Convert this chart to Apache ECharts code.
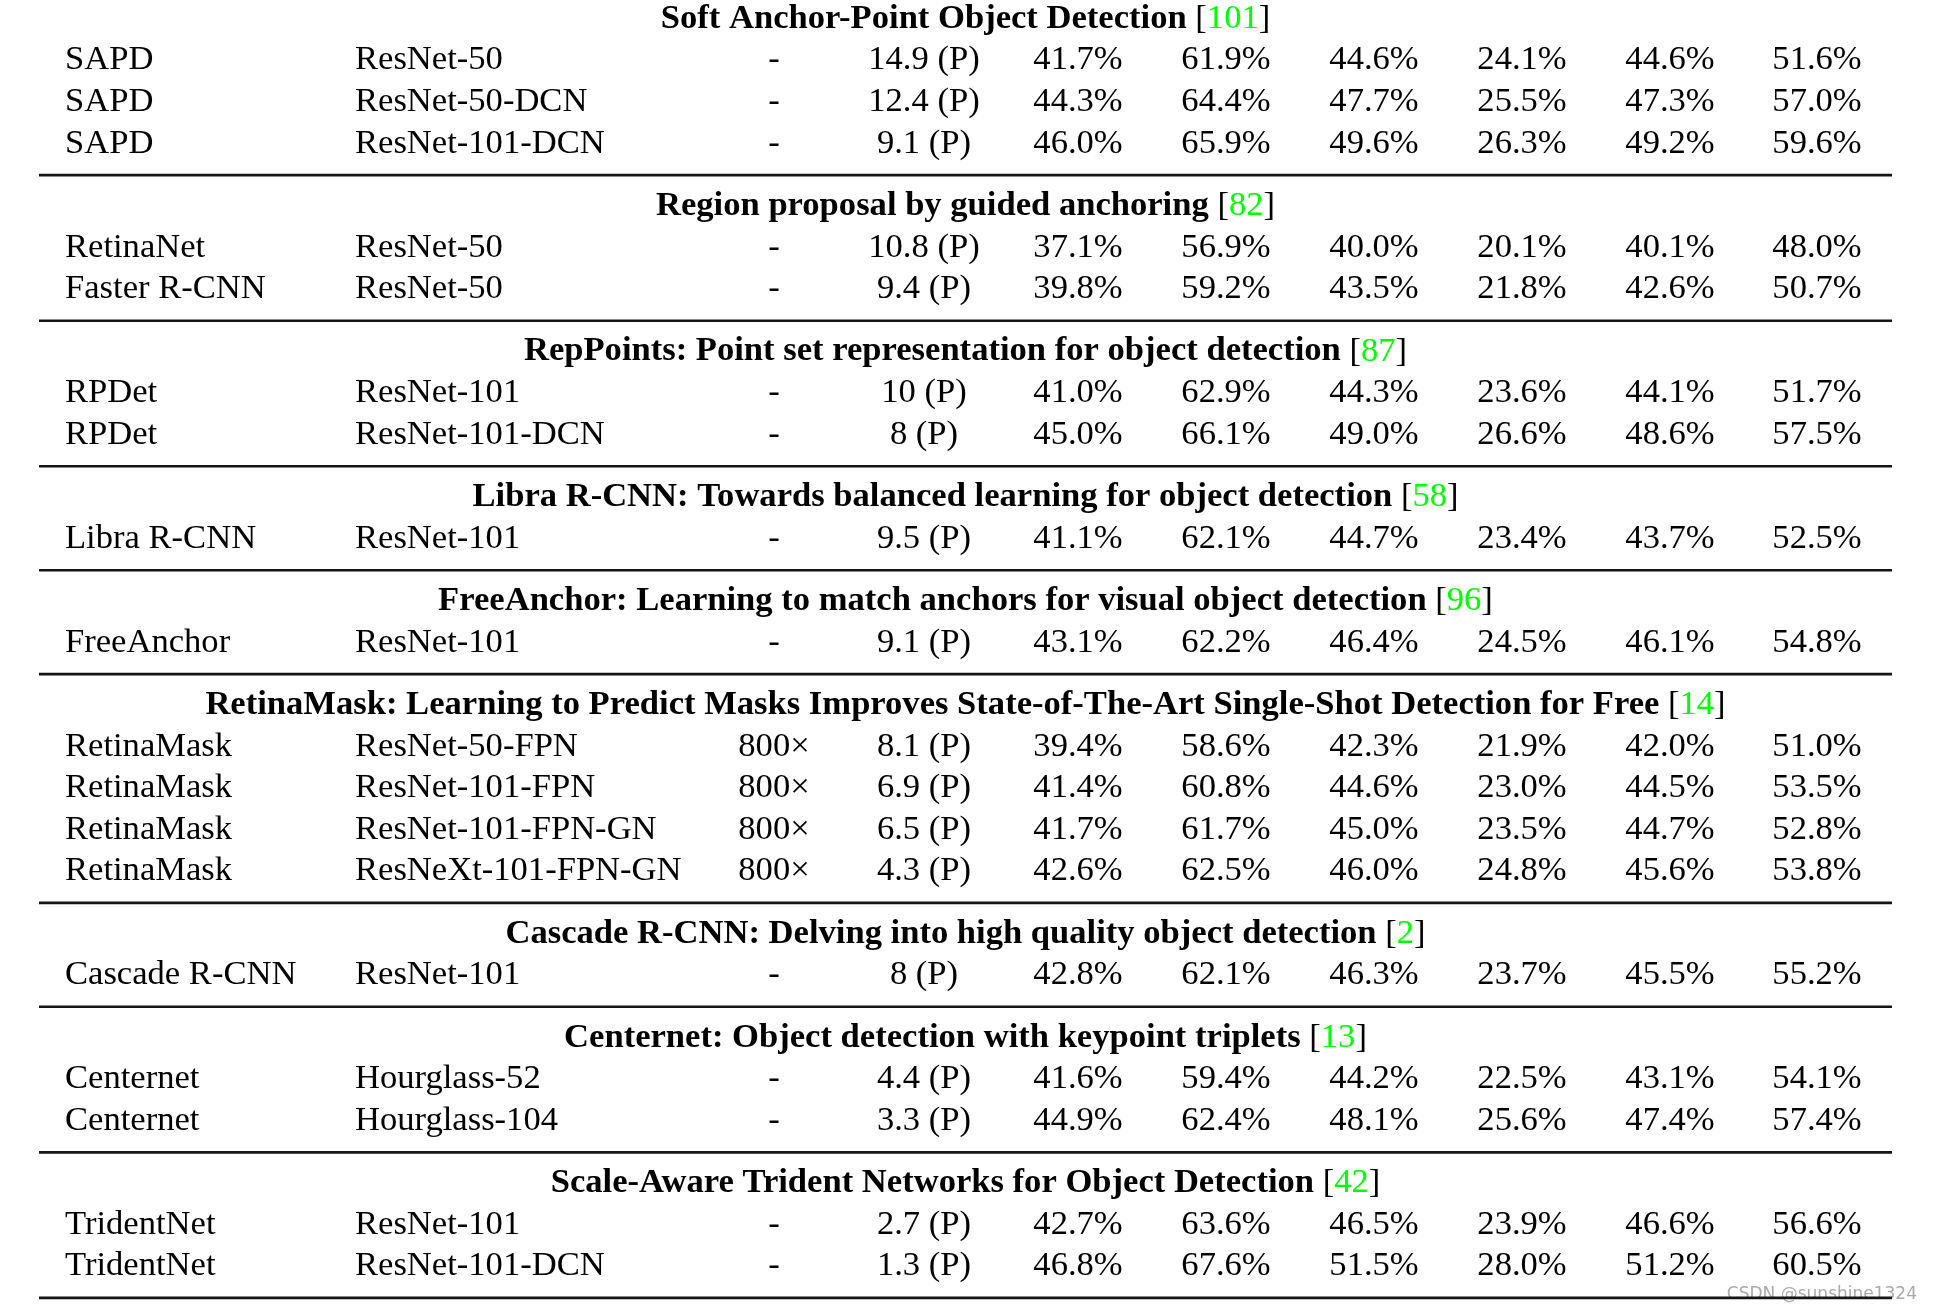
<!DOCTYPE html>
<html>
<head>
<meta charset="utf-8">
<script src="https://cdn.jsdelivr.net/npm/echarts@6/dist/echarts.min.js"></script>
<style>
html,body{margin:0;padding:0;background:#fff;}
#chart{width:1933px;height:1309px;}
</style>
</head>
<body>
<div id="chart"></div>
<script>
// ---------- DATA ----------
const groupTitles = [
  'Soft Anchor-Point Object Detection',
  'Region proposal by guided anchoring',
  'RepPoints: Point set representation for object detection',
  'Libra R-CNN: Towards balanced learning for object detection',
  'FreeAnchor: Learning to match anchors for visual object detection',
  'RetinaMask: Learning to Predict Masks Improves State-of-The-Art Single-Shot Detection for Free',
  'Cascade R-CNN: Delving into high quality object detection',
  'Centernet: Object detection with keypoint triplets',
  'Scale-Aware Trident Networks for Object Detection'
];
const groupRefs = ['101', '82', '87', '58', '96', '14', '2', '13', '42'];
const groupSizes = [3, 2, 2, 1, 1, 4, 1, 2, 2];

const methods = ['SAPD', 'SAPD', 'SAPD', 'RetinaNet', 'Faster R-CNN', 'RPDet', 'RPDet', 'Libra R-CNN', 'FreeAnchor',
  'RetinaMask', 'RetinaMask', 'RetinaMask', 'RetinaMask', 'Cascade R-CNN', 'Centernet', 'Centernet', 'TridentNet', 'TridentNet'];
const backbones = ['ResNet-50', 'ResNet-50-DCN', 'ResNet-101-DCN', 'ResNet-50', 'ResNet-50', 'ResNet-101', 'ResNet-101-DCN',
  'ResNet-101', 'ResNet-101', 'ResNet-50-FPN', 'ResNet-101-FPN', 'ResNet-101-FPN-GN', 'ResNeXt-101-FPN-GN', 'ResNet-101',
  'Hourglass-52', 'Hourglass-104', 'ResNet-101', 'ResNet-101-DCN'];
const scales = ['-', '-', '-', '-', '-', '-', '-', '-', '-', '800×', '800×', '800×', '800×', '-', '-', '-', '-', '-'];
const fps = ['14.9', '12.4', '9.1', '10.8', '9.4', '10', '8', '9.5', '9.1', '8.1', '6.9', '6.5', '4.3', '8', '4.4', '3.3', '2.7', '1.3'];
const AP   = [41.7, 44.3, 46.0, 37.1, 39.8, 41.0, 45.0, 41.1, 43.1, 39.4, 41.4, 41.7, 42.6, 42.8, 41.6, 44.9, 42.7, 46.8];
const AP50 = [61.9, 64.4, 65.9, 56.9, 59.2, 62.9, 66.1, 62.1, 62.2, 58.6, 60.8, 61.7, 62.5, 62.1, 59.4, 62.4, 63.6, 67.6];
const AP75 = [44.6, 47.7, 49.6, 40.0, 43.5, 44.3, 49.0, 44.7, 46.4, 42.3, 44.6, 45.0, 46.0, 46.3, 44.2, 48.1, 46.5, 51.5];
const APS  = [24.1, 25.5, 26.3, 20.1, 21.8, 23.6, 26.6, 23.4, 24.5, 21.9, 23.0, 23.5, 24.8, 23.7, 22.5, 25.6, 23.9, 28.0];
const APM  = [44.6, 47.3, 49.2, 40.1, 42.6, 44.1, 48.6, 43.7, 46.1, 42.0, 44.5, 44.7, 45.6, 45.5, 43.1, 47.4, 46.6, 51.2];
const APL  = [51.6, 57.0, 59.6, 48.0, 50.7, 51.7, 57.5, 52.5, 54.8, 51.0, 53.5, 52.8, 53.8, 55.2, 54.1, 57.4, 56.6, 60.5];

// ---------- LAYOUT ----------
const FONT_FAMILY = '"Liberation Serif", "Times New Roman", serif';
const FONT_SIZE = 34.6;
// column anchors on the (hidden) x value axis and their alignment
const colAnchor = [65, 355, 774, 924, 1078, 1226, 1374, 1522, 1670, 1817];
const colAlign = ['left', 'left', 'center', 'center', 'center', 'center', 'center', 'center', 'center', 'center'];
const TABLE_LEFT = 39, TABLE_RIGHT = 1892, TABLE_CENTER = (TABLE_LEFT + TABLE_RIGHT) / 2;
const SEP_GAP = 1.5;   // row units between last row of a group and the next header
const RULE_OFF = 0.76; // rule position below last row of a group

const pct = v => v.toFixed(1) + '%';
const cells = [];
const rules = [];
let u = 0, r = 0;
groupTitles.forEach((title, g) => {
  cells.push({ x: TABLE_CENTER, u: u, align: 'center', header: true,
    text: '{b|' + title + '} {n|[}{g|' + groupRefs[g] + '}{n|]}' });
  for (let k = 0; k < groupSizes[g]; k++) {
    u += 1;
    const vals = [methods[r], backbones[r], scales[r], fps[r] + ' (P)',
      pct(AP[r]), pct(AP50[r]), pct(AP75[r]), pct(APS[r]), pct(APM[r]), pct(APL[r])];
    vals.forEach((t, c) => cells.push({ x: colAnchor[c], u: u, align: colAlign[c], text: t }));
    r++;
  }
  rules.push(u + RULE_OFF);
  u += SEP_GAP;
});
const lastRow = u - SEP_GAP;

const chart = echarts.init(document.getElementById('chart'), null, { renderer: 'canvas' });
chart.setOption({
  backgroundColor: '#ffffff',
  animation: false,
  grid: { left: 0, right: 0, top: 18.8, bottom: 1309 - 1266.3 },
  xAxis: { type: 'value', min: 0, max: 1933, show: false },
  yAxis: { type: 'value', min: 0, max: lastRow, inverse: true, show: false },
  series: [
    {
      type: 'custom',
      name: 'rules',
      clip: false,
      data: rules.map(v => [TABLE_LEFT, v]),
      renderItem: function (params, api) {
        const a = api.coord([TABLE_LEFT, api.value(1)]);
        const b = api.coord([TABLE_RIGHT, api.value(1)]);
        return { type: 'line', shape: { x1: a[0], y1: a[1], x2: b[0], y2: b[1] },
          style: { stroke: '#151515', lineWidth: 2.6 } };
      }
    },
    {
      type: 'custom',
      name: 'cells',
      clip: false,
      data: cells.map(c => [c.x, c.u]),
      renderItem: function (params, api) {
        const c = cells[params.dataIndex];
        const p = api.coord([api.value(0), api.value(1)]);
        const style = {
          text: c.text, x: 0, y: 0,
          fill: '#000', align: c.align, verticalAlign: 'middle',
          fontFamily: FONT_FAMILY, fontSize: FONT_SIZE
        };
        if (c.header) {
          style.rich = {
            b: { fontFamily: FONT_FAMILY, fontSize: FONT_SIZE, fontWeight: 'bold', fill: '#000' },
            n: { fontFamily: FONT_FAMILY, fontSize: FONT_SIZE, fill: '#000' },
            g: { fontFamily: FONT_FAMILY, fontSize: FONT_SIZE, fill: '#00ff00' }
          };
        }
        return { type: 'text', x: p[0], y: p[1], style: style };
      }
    }
  ],
  graphic: [{
    type: 'text', right: 16, bottom: 6,
    style: { text: 'CSDN @sunshine1324', fill: 'rgba(140,140,140,0.75)',
      font: '17px "DejaVu Sans", sans-serif' }
  }]
});
</script>
</body>
</html>
